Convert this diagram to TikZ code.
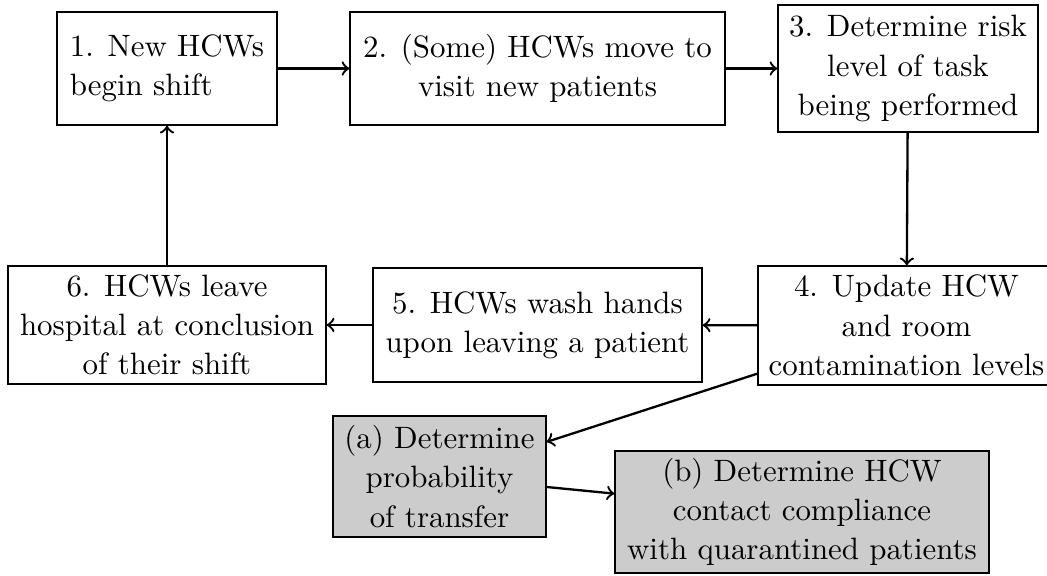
\documentclass[tikz,border=0pt]{standalone}
\begin{document}
\begin{tikzpicture}[x=0.32359pt,y=-0.32359pt,
  box/.style={draw, line width=0.45pt, inner sep=1pt, align=center, font=\fontsize{10}{12.7}\selectfont},
  shaded/.style={box, fill=black!20},
  arr/.style={->, line width=0.75pt}]
\useasboundingbox (0,0) rectangle (1047,576);
\node[box, align=left, minimum width=71.2pt, minimum height=36.6pt] (n1) at (167,68.5) {1. New HCWs\\begin shift};
\node[box, minimum width=121.3pt, minimum height=36.6pt] (n2) at (537.5,68.5) {2. (Some) HCWs move to\\visit new patients};
\node[box, minimum width=84.1pt, minimum height=41.1pt] (n3) at (908,68.5) {3. Determine risk\\level of task\\being performed};
\node[box, minimum width=96.1pt, minimum height=38.5pt] (n4) at (906.5,325.5) {4. Update HCW\\and room\\contamination levels};
\node[box, minimum width=106.5pt, minimum height=36.9pt] (n5) at (537.5,325) {5. HCWs wash hands\\upon leaving a patient};
\node[box, minimum width=102.9pt, minimum height=38.2pt] (n6) at (167,325) {6. HCWs leave\\hospital at conclusion\\of their shift};
\node[shaded, minimum width=68.9pt, minimum height=39.2pt] (na) at (439.5,476.5) {(a) Determine\\probability\\of transfer};
\node[shaded, minimum width=121.0pt, minimum height=39.5pt] (nb) at (802,512) {(b) Determine HCW\\contact compliance\\with quarantined patients};
\draw[arr] (n1) -- (n2);
\draw[arr] (n2) -- (n3);
\draw[arr] (n3) -- (n4);
\draw[arr] (n4) -- (n5);
\draw[arr] (n5) -- (n6);
\draw[arr] (n6) -- (n1);
\draw[arr] (n4) -- (na);
\draw[arr] (na) -- (nb);
\end{tikzpicture}
\end{document}
